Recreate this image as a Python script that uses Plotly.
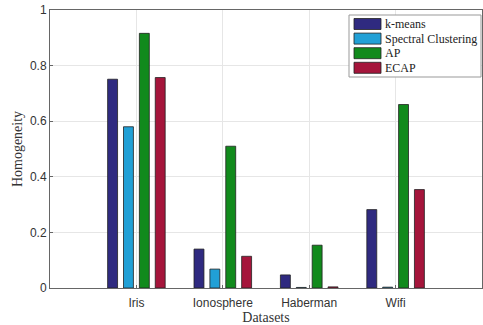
import plotly.graph_objects as go

categories = ["Iris", "Ionosphere", "Haberman", "Wifi"]
kmeans = [0.751, 0.140, 0.047, 0.282]
spectral = [0.580, 0.068, 0.002, 0.003]
ap = [0.916, 0.510, 0.154, 0.660]
ecap = [0.757, 0.114, 0.004, 0.354]

series_names = ["k-means", "Spectral Clustering", "AP", "ECAP"]
series_values = [kmeans, spectral, ap, ecap]
series_colors = ["#2f2a80", "#21a0d6", "#118a1c", "#a5153b"]

W, H = 483, 325
ML, MR, MT, MB = 50, 1, 10, 37
PW, PH = W - ML - MR, H - MT - MB


def px(x):
    return (x - ML) / PW


def py(y):
    return (H - MB - y) / PH


fig = go.Figure()
for name, vals, col in zip(series_names, series_values, series_colors):
    fig.add_trace(go.Bar(
        x=categories, y=vals, name=name, showlegend=False,
        marker=dict(color=col, line=dict(color="#222222", width=0.8)),
    ))

# custom legend (MATLAB style) in paper coordinates
shapes = [dict(type="rect", xref="paper", yref="paper",
               x0=px(349), x1=px(481), y0=py(77), y1=py(15),
               line=dict(color="#999999", width=1), fillcolor="white", layer="above")]
annotations = []
for i, (name, col) in enumerate(zip(series_names, series_colors)):
    cy = 24 + i * 14.6
    shapes.append(dict(type="rect", xref="paper", yref="paper",
                       x0=px(354), x1=px(381), y0=py(cy + 5.5), y1=py(cy - 5.5),
                       line=dict(color="#222222", width=0.8), fillcolor=col, layer="above"))
    annotations.append(dict(xref="paper", yref="paper", x=px(383), y=py(cy),
                            xanchor="left", yanchor="middle", showarrow=False,
                            text=name, font=dict(family="Liberation Serif", size=12, color="#222222")))

fig.update_layout(
    width=W, height=H,
    margin=dict(l=ML, r=MR, t=MT, b=MB),
    paper_bgcolor="white", plot_bgcolor="white",
    barmode="group", bargap=0.265, bargroupgap=0.375,
    showlegend=False,
    shapes=shapes, annotations=annotations,
    font=dict(family="Liberation Sans", size=12, color="#333333"),
)
fig.update_xaxes(
    type="category", range=[-1, 4],
    showgrid=True, gridcolor="#e6e6e6",
    showline=True, linecolor="#666666", mirror=True,
    ticks="inside", ticklen=3, tickcolor="#666666",
    ticklabelstandoff=4,
    tickfont=dict(family="Liberation Sans", size=12, color="#333333"),
    title=dict(text="Datasets", font=dict(family="Liberation Serif", size=14, color="#333333"), standoff=2),
)
fig.update_yaxes(
    range=[0, 1], tickvals=[0, 0.2, 0.4, 0.6, 0.8, 1],
    ticktext=["0", "0.2", "0.4", "0.6", "0.8", "1"],
    showgrid=True, gridcolor="#e6e6e6", zeroline=False,
    showline=True, linecolor="#666666", mirror=True,
    ticks="inside", ticklen=3, tickcolor="#666666",
    tickfont=dict(family="Liberation Sans", size=12, color="#333333"),
    title=dict(text="Homogeneity", font=dict(family="Liberation Serif", size=14, color="#333333"), standoff=4),
)

fig.write_html("out.html", config={"displayModeBar": False},
               post_script="document.body.style.margin='0';document.body.style.overflow='hidden';")
